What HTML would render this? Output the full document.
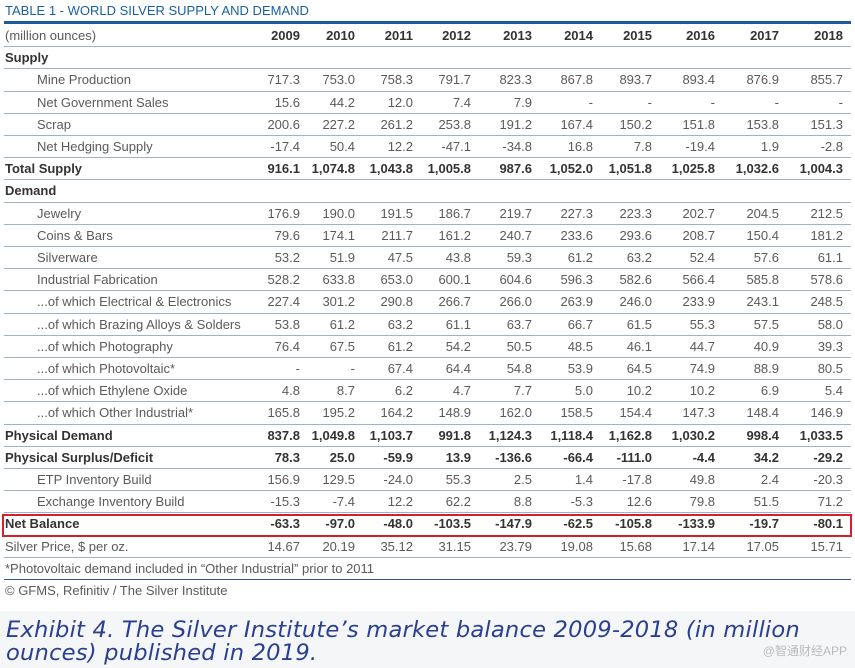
<!DOCTYPE html>
<html><head><meta charset="utf-8">
<style>
body{margin:0;width:855px;height:668px;background:#fff;overflow:hidden;font-family:"Liberation Sans",sans-serif;position:relative}
.t{position:absolute;left:5px;top:3px;font-size:13px;color:#1a5fa0;letter-spacing:0}
.bar{position:absolute;left:4px;width:847px;top:21px;height:3px;background:#1e5a9a}
.row{position:absolute;left:4px;width:847px;height:22px;font-size:13px;color:#5a5a5a}
.row span{position:absolute;top:4px;white-space:nowrap}
.b{font-weight:bold;color:#333}
.ln{position:absolute;left:4px;width:847px;height:1px;background:#9fb3c8}
.foot{position:absolute;left:0;top:611px;width:855px;height:57px;background:#f4f6f8}
.cap{position:absolute;left:6px;top:619px;font-size:22.6px;line-height:23px;font-style:italic;color:#2a3f8f;font-family:"DejaVu Sans","Liberation Sans",sans-serif;letter-spacing:0.2px}
.wm{position:absolute;right:8px;top:642px;font-size:12px;color:#bbb;font-family:"Liberation Sans","Noto Sans CJK SC",sans-serif}
.box{position:absolute;left:2px;top:514px;width:846px;height:19px;border:2px solid #d4202a}
</style></head><body>
<div class="t">TABLE 1 - WORLD SILVER SUPPLY AND DEMAND</div>
<div class="bar"></div>
<div id="tbl"></div>
<div class="box"></div>
<div class="foot"></div>
<div class="cap">Exhibit 4. The Silver Institute’s market balance 2009-2018 (in million<br>ounces) published in 2019.</div>
<div class="wm">@智通财经APP</div>
<script>
const years=["2009","2010","2011","2012","2013","2014","2015","2016","2017","2018"];
const labels=["Supply","Mine Production","Net Government Sales","Scrap","Net Hedging Supply","Total Supply","Demand","Jewelry","Coins & Bars","Silverware","Industrial Fabrication","...of which Electrical & Electronics","...of which Brazing Alloys & Solders","...of which Photography","...of which Photovoltaic*","...of which Ethylene Oxide","...of which Other Industrial*","Physical Demand","Physical Surplus/Deficit","ETP Inventory Build","Exchange Inventory Build","Net Balance","Silver Price, $ per oz.","*Photovoltaic demand included in “Other Industrial” prior to 2011","© GFMS, Refinitiv / The Silver Institute"];
const styles=["h","i","i","i","i","b","h","i","i","i","i","i","i","i","i","i","i","b","b","i","i","b","n","n","n"];
const values=[
[],
["717.3","753.0","758.3","791.7","823.3","867.8","893.7","893.4","876.9","855.7"],
["15.6","44.2","12.0","7.4","7.9","-","-","-","-","-"],
["200.6","227.2","261.2","253.8","191.2","167.4","150.2","151.8","153.8","151.3"],
["-17.4","50.4","12.2","-47.1","-34.8","16.8","7.8","-19.4","1.9","-2.8"],
["916.1","1,074.8","1,043.8","1,005.8","987.6","1,052.0","1,051.8","1,025.8","1,032.6","1,004.3"],
[],
["176.9","190.0","191.5","186.7","219.7","227.3","223.3","202.7","204.5","212.5"],
["79.6","174.1","211.7","161.2","240.7","233.6","293.6","208.7","150.4","181.2"],
["53.2","51.9","47.5","43.8","59.3","61.2","63.2","52.4","57.6","61.1"],
["528.2","633.8","653.0","600.1","604.6","596.3","582.6","566.4","585.8","578.6"],
["227.4","301.2","290.8","266.7","266.0","263.9","246.0","233.9","243.1","248.5"],
["53.8","61.2","63.2","61.1","63.7","66.7","61.5","55.3","57.5","58.0"],
["76.4","67.5","61.2","54.2","50.5","48.5","46.1","44.7","40.9","39.3"],
["-","-","67.4","64.4","54.8","53.9","64.5","74.9","88.9","80.5"],
["4.8","8.7","6.2","4.7","7.7","5.0","10.2","10.2","6.9","5.4"],
["165.8","195.2","164.2","148.9","162.0","158.5","154.4","147.3","148.4","146.9"],
["837.8","1,049.8","1,103.7","991.8","1,124.3","1,118.4","1,162.8","1,030.2","998.4","1,033.5"],
["78.3","25.0","-59.9","13.9","-136.6","-66.4","-111.0","-4.4","34.2","-29.2"],
["156.9","129.5","-24.0","55.3","2.5","1.4","-17.8","49.8","2.4","-20.3"],
["-15.3","-7.4","12.2","62.2","8.8","-5.3","12.6","79.8","51.5","71.2"],
["-63.3","-97.0","-48.0","-103.5","-147.9","-62.5","-105.8","-133.9","-19.7","-80.1"],
["14.67","20.19","35.12","31.15","23.79","19.08","15.68","17.14","17.05","15.71"],
[],[]];
const colRight=[300,355,413,471,532,593,652,715,779,843];
const tbl=document.getElementById('tbl');
const rowH=22.2, top0=24;
function mk(cls,top){const d=document.createElement('div');d.className=cls;d.style.top=top+'px';tbl.appendChild(d);return d;}
const hr=mk('row',top0);


const hl=document.createElement('span');hl.textContent='(million ounces)';hl.style.left='1px';hr.appendChild(hl);
years.forEach((y,j)=>{const s=document.createElement('span');s.className='b';s.textContent=y;s.style.right=(851-colRight[j])+'px';


hr.appendChild(s);});
const l0=mk('ln',top0+rowH);


labels.forEach((lab,i)=>{
 const t=top0+rowH*(i+1);
 const r=mk('row',t);
 
 
 const st=styles[i];
 const s=document.createElement('span');s.textContent=lab;
 s.style.left=(st==='i'?33:1)+'px';
 if(st==='h'||st==='b')s.className='b';
 r.appendChild(s);
 (values[i]||[]).forEach((v,j)=>{const c=document.createElement('span');c.textContent=v;
  if(st==='b')c.className='b';
  c.style.right=(851-colRight[j])+'px';
  
  
  r.appendChild(c);});
 if(i<labels.length-2){const l=mk('ln',t+rowH);
  
  }
 if(i===labels.length-2){const l=mk('ln',t+rowH);l.style.background='#2a5a90';
  
  }
});
</script>
</body></html>
